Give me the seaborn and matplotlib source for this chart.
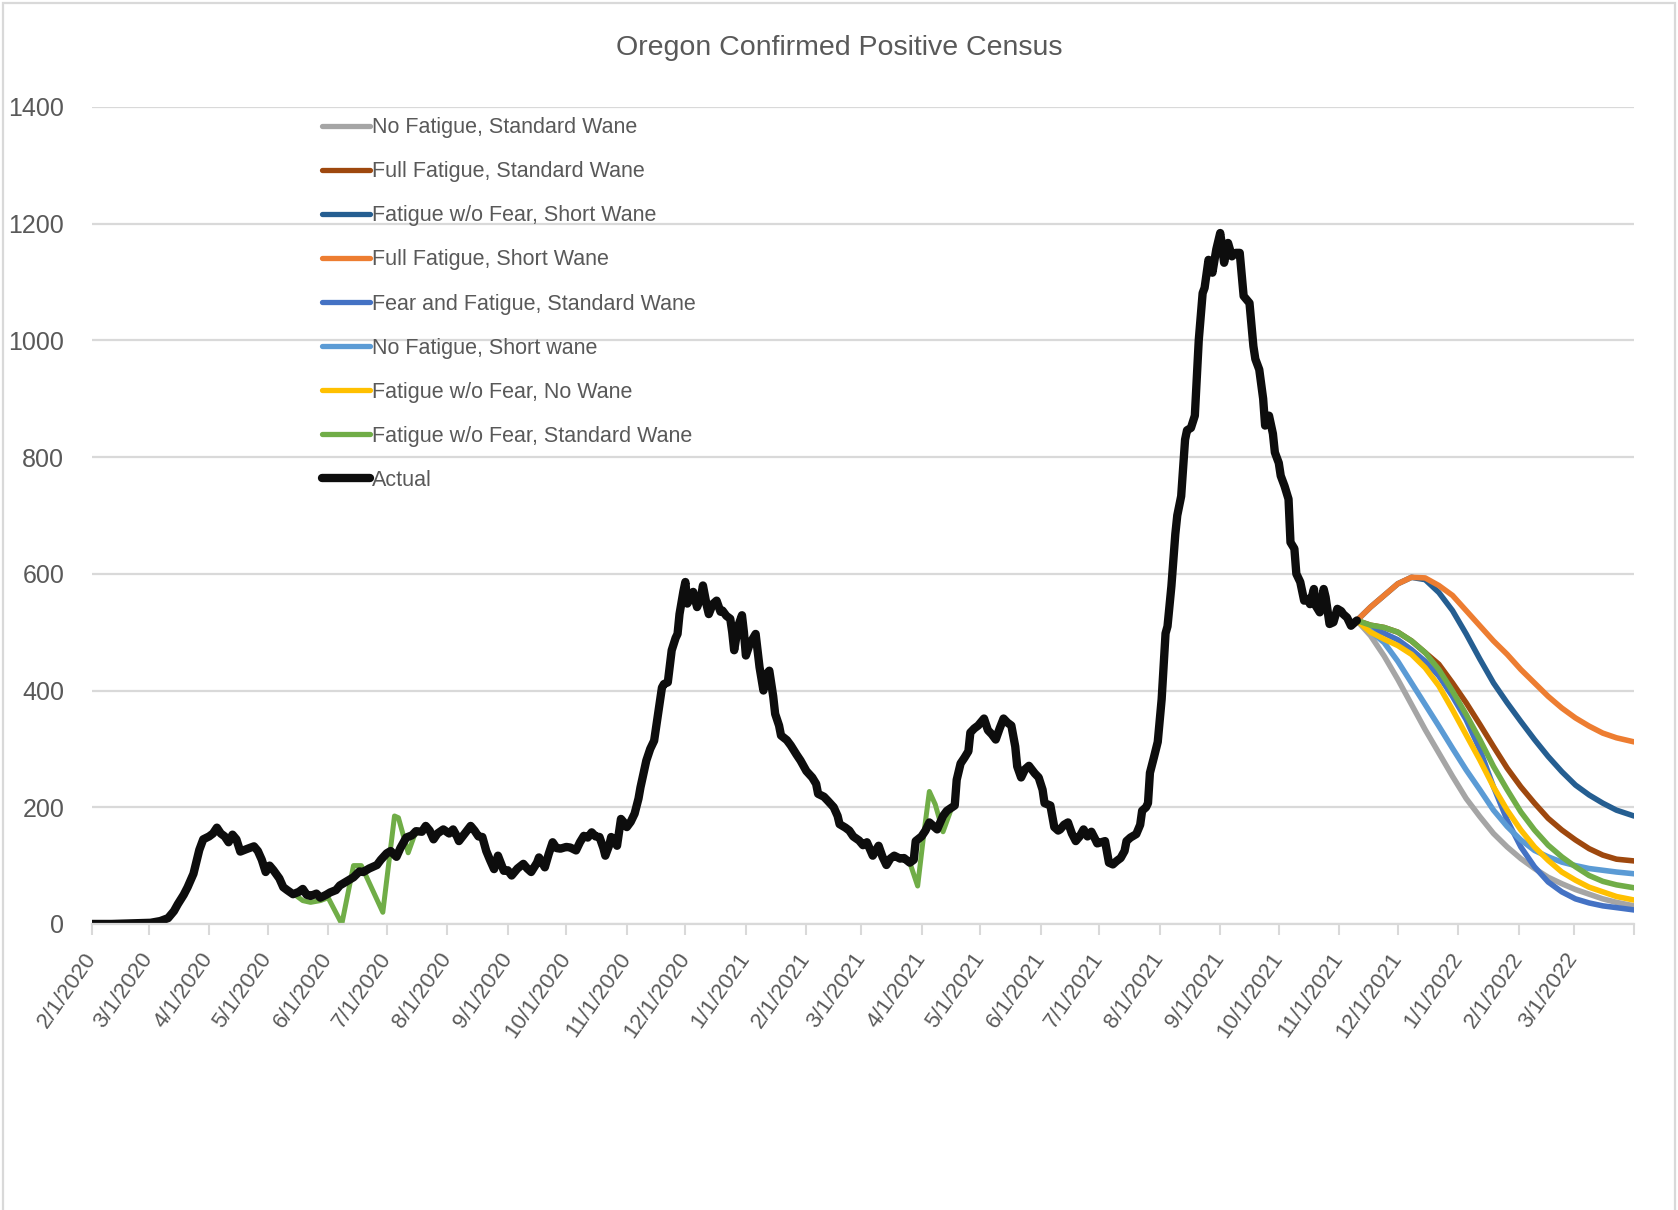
import pandas as pd
import matplotlib
matplotlib.use("Agg")
import matplotlib.pyplot as plt
from matplotlib.lines import Line2D
from matplotlib.patches import Rectangle
import seaborn as sns

# --- data (days counted from 2/1/2020) ---
START = pd.Timestamp("2020-02-01")

actual_day = [
    0, 10, 20, 30, 35, 39, 42, 44, 47, 49,
    52, 55, 57, 60, 62, 64, 66, 68, 70, 72,
    74, 76, 79, 83, 85, 87, 89, 91, 93, 96,
    98, 100, 103, 106, 108, 110, 112, 115, 117, 120,
    122, 125, 127, 130, 134, 137, 139, 142, 146, 148,
    151, 153, 156, 158, 161, 164, 166, 169, 171, 173,
    175, 177, 180, 183, 185, 187, 188, 191, 194, 196,
    198, 200, 202, 204, 206, 208, 210, 211, 213, 215,
    218, 221, 223, 225, 228, 229, 231, 232, 234, 236,
    238, 240, 243, 245, 248, 250, 252, 254, 256, 258,
    260, 262, 263, 265, 266, 268, 269, 271, 273, 274,
    276, 278, 280, 281, 283, 284, 286, 288, 290, 292,
    293, 295, 297, 299, 300, 301, 303, 304, 305, 307,
    308, 310, 312, 313, 315, 316, 318, 320, 322, 323,
    325, 327, 328, 329, 331, 333, 334, 335, 337, 340,
    342, 344, 346, 347, 349, 350, 352, 353, 356, 358,
    361, 363, 366, 369, 371, 372, 375, 377, 380, 382,
    383, 386, 388, 390, 393, 395, 397, 400, 403, 405,
    407, 409, 411, 414, 416, 419, 421, 422, 425, 427,
    429, 431, 433, 436, 438, 442, 443, 445, 447, 449,
    450, 452, 454, 457, 459, 461, 463, 465, 467, 469,
    471, 473, 474, 476, 478, 480, 483, 485, 487, 488,
    491, 493, 495, 496, 498, 500, 502, 504, 506, 508,
    510, 512, 514, 515, 517, 519, 521, 523, 525, 527,
    529, 530, 532, 535, 537, 538, 540, 541, 542, 544,
    546, 548, 550, 551, 553, 555, 556, 558, 560, 561,
    563, 565, 567, 569, 570, 572, 574, 576, 578, 579,
    580, 582, 584, 586, 588, 590, 593, 595, 596, 598,
    600, 601, 603, 605, 606, 608, 609, 611, 613, 614,
    616, 617, 619, 621, 623, 624, 626, 627, 629, 631,
    632, 634, 636, 638, 640, 641, 643, 645, 647, 648,
]
actual_value = [
    0, 0, 1, 2, 5, 10, 22, 34, 50, 63,
    86, 127, 145, 150, 155, 165, 155, 150, 140, 153,
    145, 124, 128, 133, 125, 110, 89, 100, 92, 78,
    63, 58, 51, 55, 60, 50, 48, 52, 45, 50,
    54, 58, 66, 72, 80, 90, 89, 95, 101, 110,
    121, 125, 115, 130, 148, 152, 159, 158, 168, 160,
    145, 155, 162, 155, 162, 150, 142, 155, 168, 160,
    150, 149, 125, 109, 94, 117, 100, 91, 92, 83,
    95, 103, 95, 89, 105, 114, 103, 97, 120, 140,
    130, 129, 132, 131, 126, 140, 151, 148, 157, 150,
    149, 130, 117, 135, 149, 140, 134, 180, 172, 166,
    175, 189, 215, 234, 265, 280, 300, 314, 360, 405,
    411, 414, 469, 490, 497, 531, 570, 586, 549, 560,
    569, 543, 560, 580, 545, 531, 548, 554, 535, 537,
    528, 523, 500, 469, 510, 529, 500, 460, 480, 497,
    440, 400, 430, 434, 390, 360, 340, 323, 315, 306,
    290, 280, 262, 251, 240, 223, 218, 211, 200, 185,
    171, 165, 160, 150, 143, 135, 140, 117, 134, 115,
    101, 112, 117, 112, 113, 105, 110, 142, 150, 160,
    174, 168, 162, 185, 194, 203, 247, 275, 285, 296,
    328, 335, 340, 352, 332, 325, 316, 335, 352, 345,
    340, 304, 270, 251, 265, 271, 258, 251, 230, 207,
    203, 166, 160, 162, 170, 174, 155, 142, 150, 162,
    150, 158, 145, 138, 140, 142, 105, 102, 108, 113,
    125, 142, 148, 154, 170, 194, 200, 207, 259, 285,
    312, 385, 498, 510, 579, 668, 700, 733, 830, 846,
    850, 871, 1000, 1081, 1090, 1138, 1116, 1156, 1184, 1160,
    1133, 1167, 1144, 1150, 1150, 1076, 1064, 990, 968, 950,
    900, 854, 871, 840, 808, 790, 768, 750, 728, 654,
    643, 600, 586, 554, 557, 548, 574, 545, 534, 574,
    560, 514, 517, 540, 536, 531, 525, 511, 517, 520,
]

# model fit (green) where it parts from the actual line
fit_day_2020 = [100, 104, 108, 112, 117, 121, 128, 134, 138, 149, 155, 157, 162, 165, 167]
fit_value_2020 = [58, 50, 40, 37, 40, 45, 0, 100, 100, 20, 185, 182, 122, 150, 159]
fit_day_2021 = [414, 419, 423, 426, 429, 432, 436, 440, 442]
fit_value_2021 = [112, 105, 65, 150, 227, 205, 158, 195, 203]

# projections, weekly from 11/10/2021
proj_day = [648, 655, 662, 669, 676, 683, 690, 697, 704, 711,
            718, 725, 732, 739, 746, 753, 760, 767, 774, 781, 790]
no_fatigue_std = [520, 494, 459, 419, 376, 333, 293, 253, 215, 184,
                  155, 132, 112, 95, 80, 69, 59, 51, 43, 37, 31]
full_fatigue_std = [520, 512, 508, 500, 485, 465, 445, 413, 379, 342,
                    304, 267, 235, 207, 181, 161, 144, 129, 118, 111, 108]
fatigue_nofear_short = [520, 543, 563, 583, 594, 590, 568, 537, 497, 454,
                        413, 379, 347, 316, 287, 261, 238, 221, 207, 195, 185]
full_fatigue_short = [520, 543, 563, 583, 594, 593, 580, 563, 537, 511,
                      485, 462, 436, 413, 390, 370, 353, 339, 327, 319, 312]
fear_fatigue_std = [520, 506, 498, 487, 470, 450, 425, 390, 350, 299,
                    235, 178, 132, 98, 72, 55, 43, 36, 31, 28, 24]
no_fatigue_short = [520, 502, 482, 450, 413, 376, 339, 301, 264, 230,
                    195, 167, 144, 126, 115, 106, 100, 95, 92, 89, 86]
fatigue_nofear_nowane = [520, 500, 488, 477, 462, 439, 408, 367, 324, 281,
                         235, 195, 161, 132, 109, 89, 75, 63, 55, 47, 41]
fatigue_nofear_std = [520, 512, 508, 500, 485, 465, 436, 399, 359, 316,
                      270, 230, 192, 161, 135, 115, 98, 83, 73, 67, 62]

series_labels = ["No Fatigue, Standard Wane", "Full Fatigue, Standard Wane",
                 "Fatigue w/o Fear, Short Wane", "Full Fatigue, Short Wane",
                 "Fear and Fatigue, Standard Wane", "No Fatigue, Short wane",
                 "Fatigue w/o Fear, No Wane", "Fatigue w/o Fear, Standard Wane"]
series_values = [no_fatigue_std, full_fatigue_std, fatigue_nofear_short,
                 full_fatigue_short, fear_fatigue_std, no_fatigue_short,
                 fatigue_nofear_nowane, fatigue_nofear_std]
series_colors = ["#A5A5A5", "#9E480E", "#255E91", "#ED7D31",
                 "#4472C4", "#5B9BD5", "#FFC000", "#70AD47"]

tick_labels = ["2/1/2020", "3/1/2020", "4/1/2020", "5/1/2020", "6/1/2020", "7/1/2020",
               "8/1/2020", "9/1/2020", "10/1/2020", "11/1/2020", "12/1/2020",
               "1/1/2021", "2/1/2021", "3/1/2021", "4/1/2021", "5/1/2021", "6/1/2021",
               "7/1/2021", "8/1/2021", "9/1/2021", "10/1/2021", "11/1/2021",
               "12/1/2021", "1/1/2022", "2/1/2022", "3/1/2022"]
axis_end = "4/1/2022"


def to_dates(days):
    return START + pd.to_timedelta(days, unit="D")


TXT = "#595959"
GRID = "#D9D9D9"

sns.set_theme(style="white")
plt.rcParams["font.family"] = ["Liberation Sans", "DejaVu Sans"]

fig = plt.figure(figsize=(16.78, 12.10), dpi=100)
ax = fig.add_axes([0.0548, 0.2364, 0.9190, 0.6752])

line_kw = dict(solid_joinstyle="round", solid_capstyle="round", legend=False, sort=False)
proj_x = to_dates(proj_day)
for lab, vals, col in zip(series_labels, series_values, series_colors):
    if lab == "Fatigue w/o Fear, Standard Wane":
        # fitted curve only shows where it leaves the actual line
        sns.lineplot(x=to_dates(fit_day_2020), y=fit_value_2020, ax=ax, color=col, linewidth=3.6, **line_kw)
        sns.lineplot(x=to_dates(fit_day_2021), y=fit_value_2021, ax=ax, color=col, linewidth=3.6, **line_kw)
    sns.lineplot(x=proj_x, y=vals, ax=ax, color=col, linewidth=4.0, **line_kw)

sns.lineplot(x=to_dates(actual_day), y=actual_value, ax=ax, color="#0D0D0D", linewidth=6.0, **line_kw)

# axes styling, Excel-like
tick_pos = list(pd.to_datetime(tick_labels + [axis_end], format="%m/%d/%Y"))
ax.set_xlim(tick_pos[0], tick_pos[-1])
ax.set_ylim(0, 1400)
ax.set_yticks(range(0, 1401, 200))
ax.set_xticks(tick_pos)
ax.set_xticklabels(tick_labels + [""], rotation=55, ha="right", va="center",
                   rotation_mode="anchor", fontsize=16, color=TXT)
ax.tick_params(axis="x", bottom=True, length=8, width=1.5, color=GRID, pad=14)
ax.tick_params(axis="y", left=False, length=0, pad=20, labelsize=18, labelcolor=TXT)
ax.yaxis.grid(True, color=GRID, linewidth=1.6)
ax.xaxis.grid(False)
for s in ["left", "right", "top"]:
    ax.spines[s].set_visible(False)
ax.spines["bottom"].set_color(GRID)
ax.spines["bottom"].set_linewidth(1.6)
ax.set_xlabel("")
ax.set_ylabel("")

handles = [Line2D([], [], color=c, lw=3.8, solid_capstyle="round") for c in series_colors]
handles.append(Line2D([], [], color="#0D0D0D", lw=6.0, solid_capstyle="round"))
leg = ax.legend(handles, series_labels + ["Actual"], loc="upper left",
                bbox_to_anchor=(0.192, 0.9030), bbox_transform=fig.transFigure,
                frameon=False, fontsize=15.5, handlelength=2.2, handletextpad=0.12,
                labelspacing=1.07, borderpad=0, borderaxespad=0)
for t in leg.get_texts():
    t.set_color(TXT)

fig.text(0.5, 0.960, "Oregon Confirmed Positive Census", ha="center", va="center",
         fontsize=20.5, color=TXT)

fig.patches.append(Rectangle((3 / 1678, -0.05), 1672 / 1678, 1.05 - 3 / 1210,
                             transform=fig.transFigure, fill=False, ec=GRID, lw=1.6))

fig.savefig("out.png", dpi=100)
